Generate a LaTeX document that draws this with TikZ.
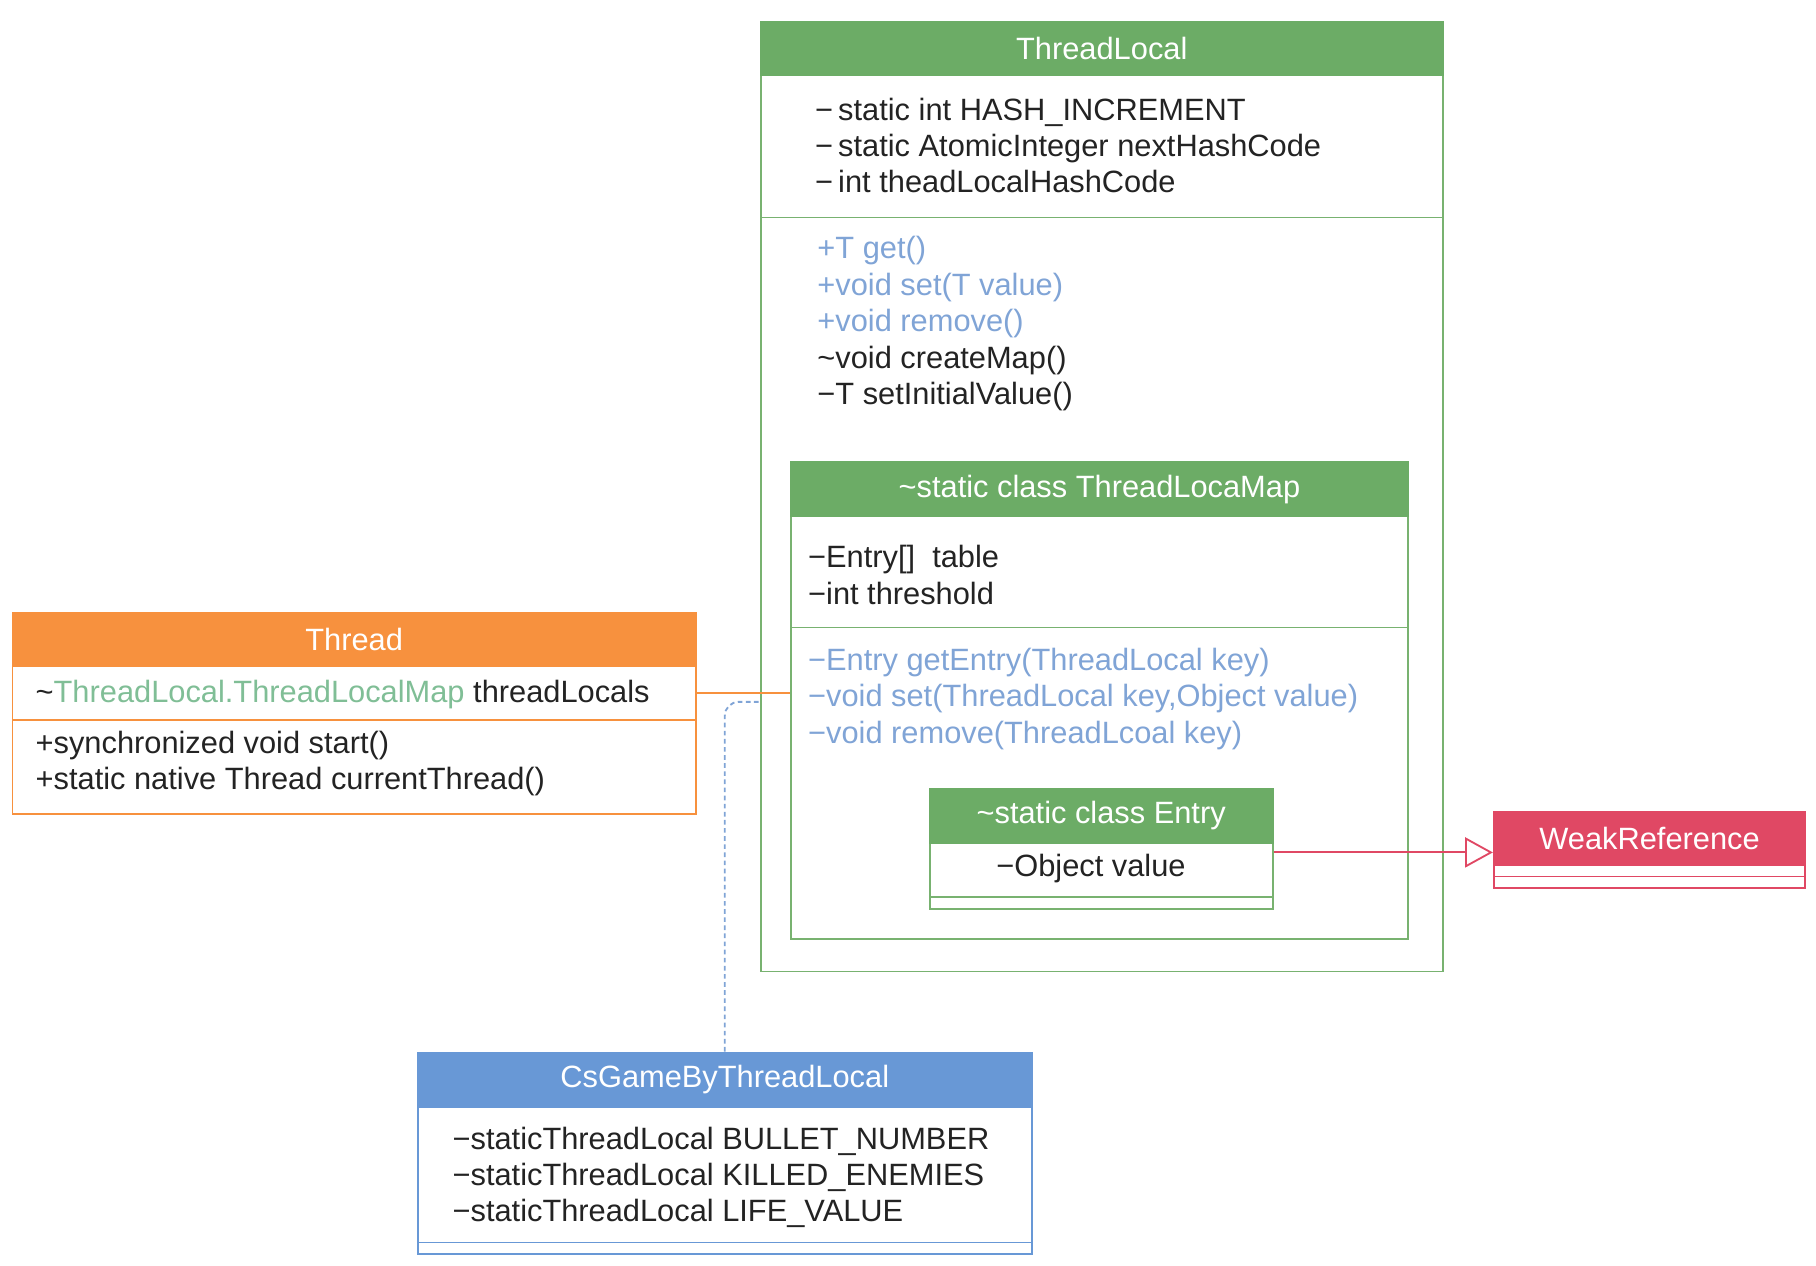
\documentclass[tikz,border=0pt]{standalone}
\usepackage{fontspec}
\setmainfont{Liberation Sans}
\usetikzlibrary{arrows.meta}
\definecolor{tlgreen}{RGB}{108,172,102}
\definecolor{tlline}{RGB}{120,178,112}
\definecolor{attrgreen}{RGB}{128,190,150}
\definecolor{throrange}{RGB}{247,145,62}
\definecolor{gameblue}{RGB}{104,152,214}
\definecolor{methblue}{RGB}{128,164,214}
\definecolor{weakred}{RGB}{224,72,100}
\definecolor{umltext}{RGB}{35,35,35}
\newcommand{\umlfont}{\fontsize{13.3}{15.7}\selectfont}
\begin{document}
\begin{tikzpicture}[x=0.5pt, y=-0.5pt, line width=0.8pt, font=\umlfont,
	hdr/.style={draw=#1, fill=#1, text=white, anchor=north west, inner sep=0pt, minimum height=23pt},
	part/.style={draw=#1, anchor=north west, inner sep=0pt},
	txt/.style={anchor=west, align=left, inner sep=0pt, text=umltext, yshift=-1pt}]
	\useasboundingbox (0,0) rectangle (1568,1093);
	% ThreadLocal
	\node[part=tlline, minimum width=294.5pt, minimum height=61.5pt] (tlattr) at (656,64) {};
	\node[part=tlline, minimum width=294.5pt, minimum height=325.5pt] (tlmeth) at (656,187) {};
	\node[hdr=tlgreen, minimum width=294.5pt] (tlhead) at (656,18) {ThreadLocal};
	\node[txt] (tlattrtxt) at (703,123.5) {−\,static int HASH\_INCREMENT\\−\,static AtomicInteger nextHashCode\\−\,int theadLocalHashCode};
	\node[txt] (tlmethtxt) at (705,277.5) {\textcolor{methblue}{+T get()}\\\textcolor{methblue}{+void set(T value)}\\\textcolor{methblue}{+void remove()}\\\textasciitilde void createMap()\\−T setInitialValue()};
	% ThreadLocaMap
	\node[part=tlline, minimum width=266.5pt, minimum height=48pt] (mapattr) at (682,445) {};
	\node[part=tlline, minimum width=266.5pt, minimum height=134.5pt] (mapmeth) at (682,541) {};
	\node[hdr=tlgreen, minimum width=266.5pt, minimum height=23.5pt] (maphead) at (682,398) {\textasciitilde static class ThreadLocaMap};
	\node[txt] (mapattrtxt) at (697,494.5) {−Entry[]~~table\\−int threshold};
	\node[txt, text=methblue] (mapmethtxt) at (697,601.5) {−Entry getEntry(ThreadLocal key)\\−void set(ThreadLocal key,Object value)\\−void remove(ThreadLcoal key)};
	% Entry
	\node[part=tlline, minimum width=148pt, minimum height=23.5pt] (entryattr) at (802,727) {};
	\node[part=tlline, minimum width=148pt, minimum height=5pt] (entrymeth) at (802,774) {};
	\node[hdr=tlgreen, minimum width=148pt, minimum height=23.5pt] (entryhead) at (802,680) {\textasciitilde static class Entry};
	\node[txt, anchor=center] (entryattrtxt) at (942,748) {−Object value};
	% WeakReference
	\node[part=weakred, minimum width=134.5pt, minimum height=5pt] (weakattr) at (1289,746) {};
	\node[part=weakred, minimum width=134.5pt, minimum height=5pt] (weakmeth) at (1289,756) {};
	\node[hdr=weakred, minimum width=134.5pt] (weakhead) at (1289,700) {WeakReference};
	% Thread
	\node[part=throrange, minimum width=295pt, minimum height=23.5pt] (thrattr) at (10,574) {};
	\node[part=throrange, minimum width=295pt, minimum height=40.5pt] (thrmeth) at (10,621) {};
	\node[hdr=throrange, minimum width=295pt] (thrhead) at (10,528) {Thread};
	\node[txt] (thrattrtxt) at (30,598) {\textasciitilde\textcolor{attrgreen}{ThreadLocal.ThreadLocalMap} threadLocals};
	\node[txt] (thrmethtxt) at (30,657) {+synchronized void start()\\+static native Thread currentThread()};
	% CsGameByThreadLocal
	\node[part=gameblue, minimum width=265pt, minimum height=58.5pt] (gameattr) at (360,955) {};
	\node[part=gameblue, minimum width=265pt, minimum height=5pt] (gamemeth) at (360,1072) {};
	\node[hdr=gameblue, minimum width=265pt, minimum height=23.5pt] (gamehead) at (360,908) {CsGameByThreadLocal};
	\node[txt] (gameattrtxt) at (390,1014.5) {−staticThreadLocal BULLET\_NUMBER\\−staticThreadLocal KILLED\_ENEMIES\\−staticThreadLocal LIFE\_VALUE};
	% connectors
	\coordinate (tlin) at (656,606);
	\coordinate (inh) at (0,736);
	\draw[throrange] (thrattr.east) -- (thrattr.east -| mapattr.west);
	\draw[methblue, dashed, dash pattern=on 2pt off 1.5pt, rounded corners=6pt] (gamehead.north) |- (tlin);
	\draw[weakred, -{Triangle[open, length=12pt, width=13pt]}] (entryattr.east |- inh) -- (weakhead.west |- inh);
\end{tikzpicture}
\end{document}
